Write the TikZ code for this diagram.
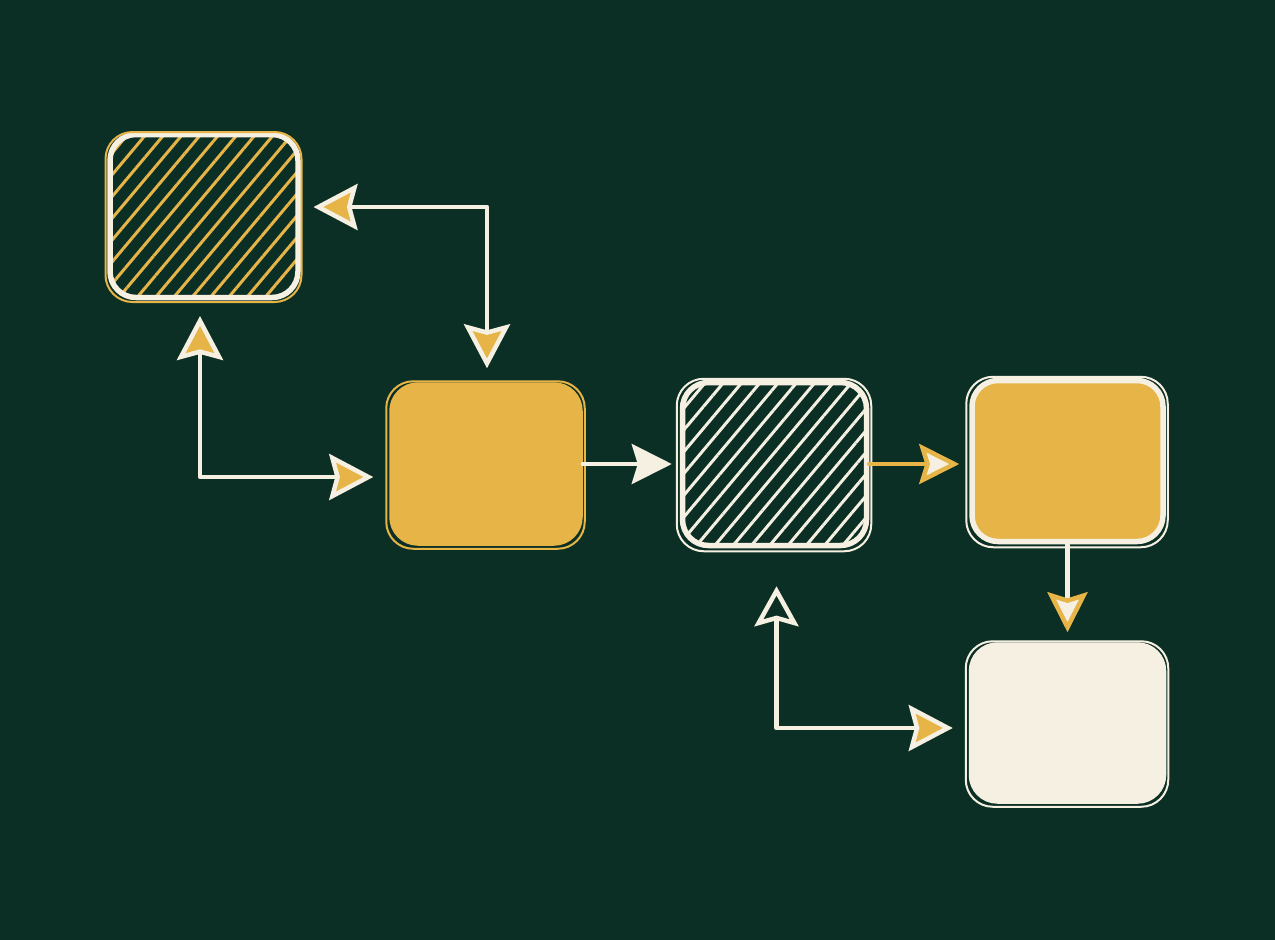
\documentclass[tikz,border=0pt]{standalone}
\usepackage{tikz}
\usetikzlibrary{arrows.meta,positioning,patterns.meta}
\definecolor{skgreen}{RGB}{12,47,37}
\definecolor{skgold}{RGB}{230,180,71}
\definecolor{skcream}{RGB}{245,240,225}
\tikzstyle{card} = [rectangle, rounded corners=26pt, line width=5.5pt, draw=skcream, inner sep=0pt]
\tikzstyle{hatchcard} = [card, pattern={Lines[angle=50,distance=14pt,line width=3pt]}]
\tikzstyle{arrow} = [line width=4.5pt, color=skcream, line cap=round, line join=round]
\tikzset{
  goldhead/.tip={Stealth[length=44pt,width=46pt,inset=6pt,fill=skgold]},
  creamhead/.tip={Stealth[length=40pt,width=40pt,inset=6pt,fill=skcream]},
  openhead/.tip={Stealth[length=40pt,width=44pt,inset=6pt,fill=skgreen]},
  ringhead/.tip={Stealth[length=40pt,width=40pt,inset=6pt,color=skgold,fill=skcream]}
}

\begin{document}
\begin{tikzpicture}[x=1pt,y=-1pt]
\useasboundingbox[fill=skgreen] (0,0) rectangle (1275,940);

% Boxes
\node[hatchcard, pattern color=skgold, minimum width=188pt, minimum height=163pt] (boxA) at (204,216) {};
\node[card, draw=skgold, fill=skgold, minimum width=188pt, minimum height=158pt] (boxB) at (486,464) {};
\node[hatchcard, pattern color=skcream, right=97pt of boxB, minimum width=184pt, minimum height=163pt] (boxC) {};
\node[card, fill=skgold, right=100pt of boxC, yshift=3pt, minimum width=191pt, minimum height=161pt] (boxD) {};
\node[card, fill=skcream, below=98pt of boxD, minimum width=192pt, minimum height=156pt] (boxE) {};

% Sketchy second outlines
\foreach \b/\c in {boxA/skgold,boxB/skgold,boxC/skcream,boxD/skcream,boxE/skcream}
  \draw[\c, line width=2pt, rounded corners=27pt] ([shift={(-3,-1)}]\b.north west) rectangle ([shift={(2,3)}]\b.south east);

% Connectors
\draw[arrow, {goldhead}-{goldhead}] ([shift={(14,-9)}]boxA.east) -| ([shift={(1,-14)}]boxB.north);
\draw[arrow, {goldhead}-{goldhead}] ([shift={(-4,17)}]boxA.south) |- ([shift={(-16,13)}]boxB.west);
\draw[arrow, -{creamhead}, shorten >=8pt] (boxB.east) -- (boxB.east -| boxC.west);
\draw[arrow, skgold, -{Stealth[length=40pt,width=40pt,inset=6pt,fill=skcream]}, shorten >=10pt] (boxC.east) -- (boxC.east -| boxD.west);
\draw[arrow, -{ringhead}, shorten >=10pt] (boxD.south) -- (boxE.north);
\draw[arrow, {openhead}-{goldhead}] ([shift={(2,38)}]boxC.south) |- ([shift={(-16,5)}]boxE.west);
\end{tikzpicture}
\end{document}
